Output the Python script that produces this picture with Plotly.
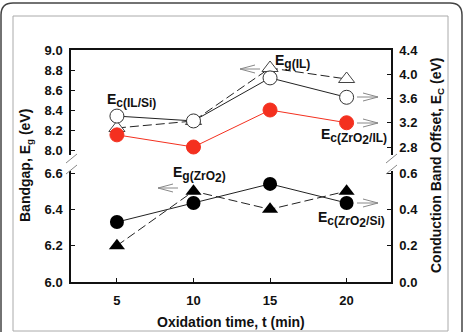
import plotly.graph_objects as go

# ---- data ----
time_min = [5, 10, 15, 20]
eg_il = [8.22, 8.29, 8.82, 8.71]          # left axis (upper), open triangles
ec_il_si = [3.31, 3.23, 3.94, 3.62]       # right axis (upper), open circles
ec_zro2_il = [3.00, 2.80, 3.41, 3.20]     # right axis (upper), red circles
eg_zro2 = [6.20, 6.50, 6.40, 6.50]        # left axis (lower), filled triangles
ec_zro2_si = [0.33, 0.435, 0.54, 0.435]   # right axis (lower), filled circles

left_upper_ticks = [8.0, 8.2, 8.4, 8.6, 8.8, 9.0]
left_lower_ticks = [6.0, 6.2, 6.4, 6.6]
right_upper_ticks = [2.8, 3.2, 3.6, 4.0, 4.4]
right_lower_ticks = [0.0, 0.2, 0.4, 0.6]
x_ticks = [5, 10, 15, 20]

W, H = 463, 332
ML, MR, MT, MB = 71, 72, 50, 50
PW = W - ML - MR
PH = H - MT - MB


def px(x):
    return (x - ML) / PW


def py(y):
    return (H - MB - y) / PH


FONT = "Liberation Sans, Arial, sans-serif"
RED = "#f4301f"

fig = go.Figure()

fig.add_trace(go.Scatter(x=time_min, y=eg_il, xaxis="x2", yaxis="y3", mode="lines+markers",
                         line=dict(color="#222", width=1, dash="9px,4px"),
                         marker=dict(symbol="triangle-up", size=14, color="white",
                                     line=dict(color="#444", width=1)), showlegend=False))
fig.add_trace(go.Scatter(x=time_min, y=ec_il_si, xaxis="x2", yaxis="y4", mode="lines+markers",
                         line=dict(color="#222", width=1),
                         marker=dict(symbol="circle", size=14, color="white",
                                     line=dict(color="#333", width=1)), showlegend=False))
fig.add_trace(go.Scatter(x=time_min, y=ec_zro2_il, xaxis="x2", yaxis="y4", mode="lines+markers",
                         line=dict(color=RED, width=1),
                         marker=dict(symbol="circle", size=14, color=RED,
                                     line=dict(color=RED, width=1)), showlegend=False))
fig.add_trace(go.Scatter(x=time_min, y=eg_zro2, xaxis="x", yaxis="y", mode="lines+markers",
                         line=dict(color="#222", width=1, dash="9px,4px"),
                         marker=dict(symbol="triangle-up", size=14, color="black"), showlegend=False))
fig.add_trace(go.Scatter(x=time_min, y=ec_zro2_si, xaxis="x", yaxis="y2", mode="lines+markers",
                         line=dict(color="#222", width=1),
                         marker=dict(symbol="circle", size=14, color="black"), showlegend=False))

tickfont = dict(family=FONT, size=13, color="#111", weight="bold")
ax_common = dict(showline=True, linecolor="#111", linewidth=1.5, ticks="inside", ticklen=4,
                 tickcolor="#111", tickwidth=1.2, showgrid=False, zeroline=False, tickfont=tickfont)

x_rng = [2.0, 22.9]
up_dom = [py(155), 1.0]
lo_dom = [0.0, py(171)]

fig.update_layout(
    width=W, height=H,
    margin=dict(l=ML, r=MR, t=MT, b=MB),
    paper_bgcolor="white", plot_bgcolor="white",
    xaxis=dict(ax_common, range=x_rng, anchor="y", tickvals=x_ticks, ticklabelstandoff=6),
    xaxis2=dict(ax_common, range=x_rng, anchor="y3", side="top", ticks="", showticklabels=False),
    yaxis=dict(ax_common, domain=lo_dom, range=[6.0, 6.611], anchor="x", tickvals=left_lower_ticks,
               tickformat=".1f", ticklabelstandoff=4),
    yaxis2=dict(ax_common, domain=lo_dom, range=[0.0, 0.611], anchor="x", overlaying="y", side="right",
                tickvals=right_lower_ticks, tickformat=".1f", ticklabelstandoff=4),
    yaxis3=dict(ax_common, domain=up_dom, range=[7.95, 9.0], anchor="x2", tickvals=left_upper_ticks,
                tickformat=".1f", ticklabelstandoff=4),
    yaxis4=dict(ax_common, domain=up_dom, range=[2.668, 4.4], anchor="x2", overlaying="y3", side="right",
                tickvals=right_upper_ticks, tickformat=".1f", ticklabelstandoff=4),
)

annots = []


def label(text, x, y, size=14, angle=0):
    annots.append(dict(text=text, x=px(x), y=py(y), xref="paper", yref="paper", showarrow=False,
                       textangle=angle, xanchor="center", yanchor="middle",
                       font=dict(family=FONT, size=size, color="#111", weight="bold")))


SUB = "<span style='font-size:12px'>"
label(f"E<sub>{SUB}c(IL/Si)</span></sub>", 131, 100)
label(f"E<sub>{SUB}g(IL)</span></sub>", 292, 61)
label(f"E<sub>{SUB}c(ZrO</span><sub>{SUB}2</span></sub>{SUB}/IL)</span></sub>", 354, 136)
label(f"E<sub>{SUB}g(ZrO</span><sub>{SUB}2</span></sub>{SUB})</span></sub>", 199, 174)
label(f"E<sub>{SUB}c(ZrO</span><sub>{SUB}2</span></sub>{SUB}/Si)</span></sub>", 351, 219)
label("Bandgap, E<sub>g</sub> (eV)", 26, 166, size=14, angle=-90)
label("Conduction Band Offset, E<sub>C</sub> (eV)", 437, 165, size=14, angle=-90)
label("Oxidation time, t (min)", 231, 322, size=14)
fig.update_layout(annotations=annots)

shapes = []


def seg(x0, y0, x1, y1, color="#888", width=1):
    shapes.append(dict(type="line", xref="paper", yref="paper", x0=px(x0), y0=py(y0), x1=px(x1), y1=py(y1),
                       line=dict(color=color, width=width)))


def arrow(tip_x, y, tail_x):
    d = 1 if tail_x < tip_x else -1
    seg(tail_x, y, tip_x, y)
    seg(tip_x, y, tip_x - d * 15, y - 4)
    seg(tip_x, y, tip_x - d * 15, y + 4)


arrow(378, 97, 357)
arrow(378, 123, 357)
arrow(378, 203, 357)
arrow(240, 69, 260)
arrow(158, 188, 178)

# axis break marks
for bx in (71, 391):
    seg(bx - 5, 163, bx + 6, 154, color="#888", width=1)
    seg(bx - 5, 174, bx + 6, 165, color="#888", width=1)

# frames
shapes.append(dict(type="rect", xref="paper", yref="paper", x0=px(13), y0=py(331), x1=px(448), y1=py(16),
                   line=dict(color="#aaa", width=1), layer="below"))
r = 12
path = (f"M {px(1)},{py(340)} L {px(1)},{py(3 + r)} Q {px(1)},{py(3)} {px(1 + r)},{py(3)} "
        f"L {px(462 - r)},{py(3)} Q {px(462)},{py(3)} {px(462)},{py(3 + r)} L {px(462)},{py(340)}")
shapes.append(dict(type="path", xref="paper", yref="paper", path=path, line=dict(color="#444", width=1.5)))

fig.update_layout(shapes=shapes)

fig.write_html("out.html")
